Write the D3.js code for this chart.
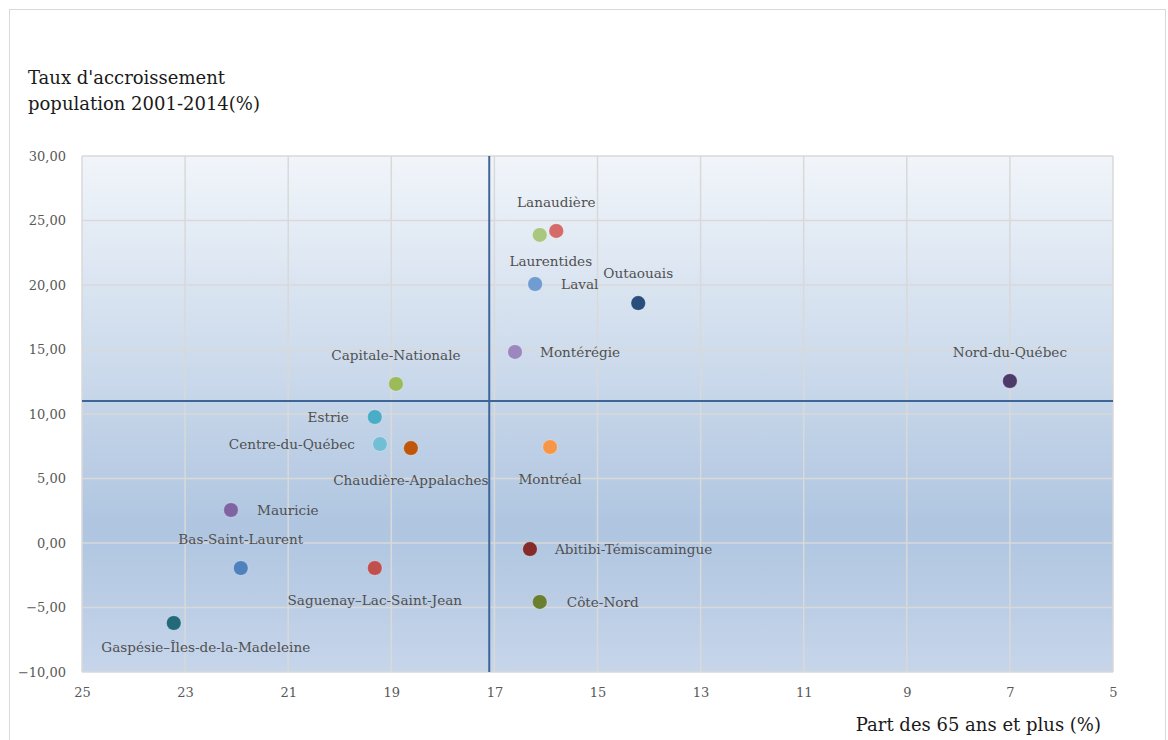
<!DOCTYPE html>
<html><head><meta charset="utf-8">
<script src="https://cdn.jsdelivr.net/npm/d3@7"></script>
<style>
html,body{margin:0;padding:0;background:#fff;}
svg{display:block;}
text{font-family:"DejaVu Serif","Liberation Serif",serif;}
</style></head>
<body><svg id="chart" width="1168" height="740"></svg>
<script>
// ---- data ----
const regions = ["Lanaudière","Laurentides","Laval","Outaouais","Montérégie","Capitale-Nationale","Nord-du-Québec","Estrie","Centre-du-Québec","Chaudière-Appalaches","Montréal","Mauricie","Bas-Saint-Laurent","Saguenay–Lac-Saint-Jean","Gaspésie–Îles-de-la-Madeleine","Abitibi-Témiscamingue","Côte-Nord"];
const part65 = [15.8,16.12,16.21,14.21,16.6,18.91,7.0,19.32,19.22,18.62,15.92,22.11,21.92,19.32,23.22,16.31,16.12];
const growth = [24.19,23.88,20.08,18.6,14.81,12.33,12.56,9.77,7.67,7.36,7.44,2.56,-1.94,-1.94,-6.2,-0.47,-4.57];
const xTicks = [25,23,21,19,17,15,13,11,9,7,5];
const yTicks = [30,25,20,15,10,5,0,-5,-10];
const refX = 17.1, refY = 11;

// ---- styles / layout ----
const colors = ["#d46b69","#aac77e","#709cd2","#294d7c","#9c88bf","#9bbb59","#4c3b6a","#4aacc6","#72bed4","#c0560b","#f79646","#8064a2","#4f81bd","#c0504d","#226a7a","#852c2a","#6b7f31"];
// label placement: [anchor, dx, dy]
const labelPlace = {
 "Lanaudière":["middle",0,-29],
 "Laurentides":["middle",11,26],
 "Laval":["start",26,0],
 "Outaouais":["middle",0,-30],
 "Montérégie":["start",25,0],
 "Capitale-Nationale":["middle",0,-29],
 "Nord-du-Québec":["middle",0,-29],
 "Estrie":["end",-26,0],
 "Centre-du-Québec":["end",-25,0],
 "Chaudière-Appalaches":["middle",0,32],
 "Montréal":["middle",0,32],
 "Mauricie":["start",26,0],
 "Bas-Saint-Laurent":["middle",0,-29],
 "Saguenay–Lac-Saint-Jean":["middle",0,32],
 "Gaspésie–Îles-de-la-Madeleine":["middle",32,24],
 "Abitibi-Témiscamingue":["start",25,0],
 "Côte-Nord":["start",27,0]
};

const svg = d3.select("#chart");
const L = 82, R = 1113, T = 156, B = 672;
const x = d3.scaleLinear().domain([25,5]).range([L,R]);
const y = d3.scaleLinear().domain([-10,30]).range([B,T]);

// outer border
svg.append("rect").attr("x",9.5).attr("y",9.5).attr("width",1156).attr("height",760)
  .attr("fill","#fff").attr("stroke","#d9d9d9").attr("stroke-width",1);

const defs = svg.append("defs");
const g = defs.append("linearGradient").attr("id","bg").attr("x1",0).attr("y1",0).attr("x2",0).attr("y2",1);
g.append("stop").attr("offset","0%").attr("stop-color","#f1f5fa");
g.append("stop").attr("offset","72%").attr("stop-color","#afc5e0");
g.append("stop").attr("offset","100%").attr("stop-color","#c6d5ea");

svg.append("rect").attr("x",L).attr("y",T).attr("width",R-L).attr("height",B-T).attr("fill","url(#bg)");

// grid
const grid = svg.append("g").attr("stroke","#d9d9d9").attr("stroke-width",1.5);
xTicks.forEach(t=>grid.append("line").attr("x1",x(t)).attr("x2",x(t)).attr("y1",T).attr("y2",B));
yTicks.forEach(t=>grid.append("line").attr("x1",L).attr("x2",R).attr("y1",y(t)).attr("y2",y(t)));

// axes (labels only)
const xAxis = d3.axisBottom(x).tickValues(xTicks).tickSize(0).tickPadding(16).tickFormat(d3.format("d"));
const xa = svg.append("g").attr("transform",`translate(0,${B})`).call(xAxis);
xa.select(".domain").remove();
xa.selectAll("text").attr("fill","#595959").attr("font-size",13).attr("font-family","DejaVu Serif");
const yFmt = d => d3.format(".2f")(d).replace(".",",");
const yAxis = d3.axisLeft(y).tickValues(yTicks).tickSize(0).tickPadding(16).tickFormat(yFmt);
const ya = svg.append("g").attr("transform",`translate(${L},0)`).call(yAxis);
ya.select(".domain").remove();
ya.selectAll("text").attr("fill","#595959").attr("font-size",13).attr("font-family","DejaVu Serif");

// reference lines
svg.append("line").attr("x1",x(refX)).attr("x2",x(refX)).attr("y1",T).attr("y2",B).attr("stroke","#3d6598").attr("stroke-width",2);
svg.append("line").attr("x1",L).attr("x2",R).attr("y1",y(refY)).attr("y2",y(refY)).attr("stroke","#3d6598").attr("stroke-width",2);

// points
const data = regions.map((n,i)=>({n, x:part65[i], y:growth[i], c:colors[i]}));
svg.append("g").selectAll("circle").data(data).join("circle")
  .attr("cx",d=>x(d.x)).attr("cy",d=>y(d.y)).attr("r",7.3)
  .attr("fill",d=>d.c).attr("stroke","rgba(255,255,255,0.35)").attr("stroke-width",0.8);

// labels
svg.append("g").selectAll("text").data(data).join("text")
  .attr("x",d=>x(d.x)+labelPlace[d.n][1]).attr("y",d=>y(d.y)+labelPlace[d.n][2])
  .attr("text-anchor",d=>labelPlace[d.n][0]).attr("dominant-baseline","central")
  .attr("fill","#505050").attr("font-size",13.6).text(d=>d.n);

// titles
const tt = svg.append("text").attr("x",28).attr("fill","#1a1a1a").attr("font-size",18);
tt.append("tspan").attr("x",28).attr("y",84).text("Taux d'accroissement");
tt.append("tspan").attr("x",28).attr("y",110).text("population 2001-2014(%)");
svg.append("text").attr("x",1101).attr("y",731).attr("text-anchor","end").attr("fill","#1a1a1a").attr("font-size",18).text("Part des 65 ans et plus (%)");
</script></body></html>
